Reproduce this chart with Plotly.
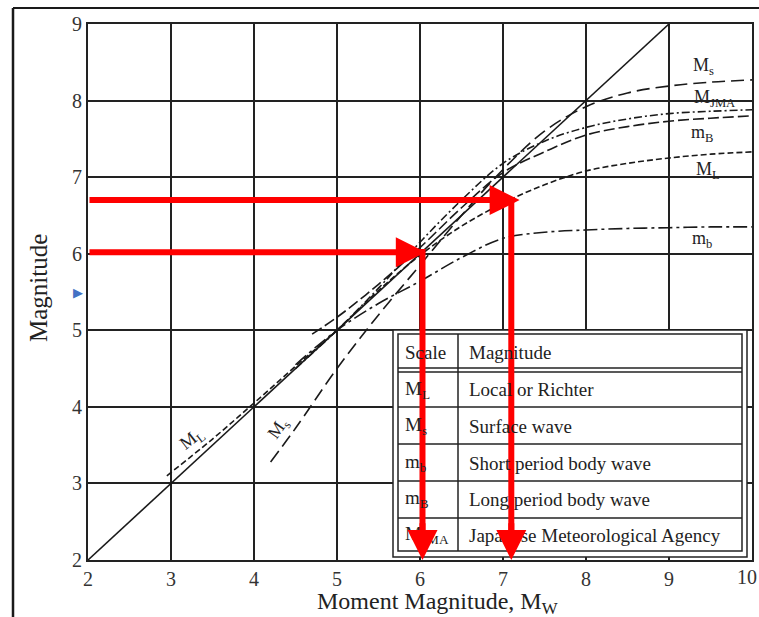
import plotly.graph_objects as go

# ---------------- data ----------------
mw_x = [2, 9]
mw_y = [2, 9]

ms_x = [4.2, 4.5, 5.0, 5.5, 6.0, 6.5, 7.0, 7.5, 8.0, 8.5, 9.0, 9.5, 10.0]
ms_y = [3.28, 3.72, 4.5, 5.2, 5.85, 6.5, 7.1, 7.6, 7.92, 8.1, 8.19, 8.24, 8.27]

ml_x = [2.95, 3.5, 4.0, 4.5, 5.0, 5.5, 6.0, 6.5, 7.0, 7.5, 8.0, 8.5, 9.0, 9.5, 10.0]
ml_y = [3.1, 3.58, 4.05, 4.53, 5.0, 5.52, 5.98, 6.36, 6.66, 6.9, 7.08, 7.18, 7.25, 7.3, 7.33]

mjma_x = [4.5, 5.0, 5.5, 6.0, 6.5, 7.0, 7.5, 8.0, 8.5, 9.0, 9.5, 10.0]
mjma_y = [4.5, 5.0, 5.55, 6.15, 6.7, 7.18, 7.47, 7.65, 7.76, 7.83, 7.86, 7.88]

mB_x = [4.7, 5.0, 5.5, 6.0, 6.5, 7.0, 7.5, 8.0, 8.5, 9.0, 9.5, 10.0]
mB_y = [4.95, 5.17, 5.6, 6.08, 6.6, 7.06, 7.33, 7.55, 7.66, 7.73, 7.77, 7.8]

mb_x = [4.5, 5.0, 5.5, 6.0, 6.5, 7.0, 7.5, 8.0, 8.5, 9.0, 9.5, 10.0]
mb_y = [4.55, 5.0, 5.35, 5.64, 5.95, 6.2, 6.28, 6.31, 6.33, 6.34, 6.35, 6.35]

# reading arrows (Mw -> magnitude)
arrow_mw = [6.03, 7.1]
arrow_mag = [6.02, 6.7]
arrow_tip_x = [6.07, 7.2]

x_ticks = [2, 3, 4, 5, 6, 7, 8, 9]
x_tick_last = "10"
y_ticks = [2, 3, 4, 5, 6, 7, 8, 9]

table_scale = ["Scale", "M<sub>L</sub>", "M<sub>s</sub>", "m<sub>b</sub>", "m<sub>B</sub>", "M<sub>JMA</sub>"]
table_desc = ["Magnitude", "Local or Richter", "Surface wave", "Short period body wave",
              "Long period body wave", "Japanese Meteorological Agency"]

# ---------------- figure ----------------
W, H = 759, 617
L, R, T, B = 88, 7, 24, 57
PW, PH = W - L - R, H - T - B


def px(x):
    return (x - L) / PW


def py(y):
    return (H - B - y) / PH


SERIF = "Liberation Serif"
INK = "#1a1a1a"
fig = go.Figure()

fig.add_trace(go.Scatter(x=mw_x, y=mw_y, mode="lines", line=dict(color=INK, width=1.6)))
fig.add_trace(go.Scatter(x=ms_x, y=ms_y, mode="lines", line_shape="spline",
                         line=dict(color=INK, width=1.6, dash="13px,6px")))
fig.add_trace(go.Scatter(x=ml_x, y=ml_y, mode="lines", line_shape="spline",
                         line=dict(color=INK, width=1.6, dash="6px,3px")))
fig.add_trace(go.Scatter(x=mjma_x, y=mjma_y, mode="lines", line_shape="spline",
                         line=dict(color=INK, width=1.6, dash="8px,3px,2px,3px")))
fig.add_trace(go.Scatter(x=mB_x, y=mB_y, mode="lines", line_shape="spline",
                         line=dict(color=INK, width=1.6, dash="11px,4px")))
fig.add_trace(go.Scatter(x=mb_x, y=mb_y, mode="lines", line_shape="spline",
                         line=dict(color=INK, width=1.6, dash="14px,4px,3px,4px")))

shapes = []
# outer image frame (left and top)
shapes.append(dict(type="line", xref="paper", yref="paper", x0=px(13), x1=px(13), y0=py(617), y1=py(8),
                   line=dict(color=INK, width=2.5)))
shapes.append(dict(type="line", xref="paper", yref="paper", x0=px(13), x1=px(759), y0=py(8), y1=py(8),
                   line=dict(color=INK, width=2)))

# table
shapes.append(dict(type="rect", xref="paper", yref="paper", x0=px(393), x1=px(747), y0=py(557), y1=py(330),
                   fillcolor="white", line=dict(color="#222", width=1.5), layer="above"))
shapes.append(dict(type="rect", xref="paper", yref="paper", x0=px(398), x1=px(742), y0=py(551), y1=py(334),
                   line=dict(color="#222", width=1.5), layer="above"))
for yy in [368, 372, 407, 444, 481, 518]:
    shapes.append(dict(type="line", xref="paper", yref="paper", x0=px(398), x1=px(742), y0=py(yy), y1=py(yy),
                       line=dict(color="#222", width=1.5), layer="above"))
shapes.append(dict(type="line", xref="paper", yref="paper", x0=px(458), x1=px(458), y0=py(551), y1=py(334),
                   line=dict(color="#222", width=1.5), layer="above"))

# red vertical arrow shafts
for xm, ym in zip(arrow_mw, arrow_mag):
    shapes.append(dict(type="line", xref="x", yref="y", x0=xm, x1=xm, y0=ym + 0.04, y1=2.35,
                       line=dict(color="#ff0000", width=6), layer="above"))

annotations = []
row_y = [352, 390, 426, 463, 499, 535]
for i, (s, d) in enumerate(zip(table_scale, table_desc)):
    annotations.append(dict(xref="paper", yref="paper", x=px(403), y=py(row_y[i]), text=s, showarrow=False,
                            xanchor="left", yanchor="middle", font=dict(family=SERIF, size=19, color="#222")))
    annotations.append(dict(xref="paper", yref="paper", x=px(467), y=py(row_y[i]), text=d, showarrow=False,
                            xanchor="left", yanchor="middle", font=dict(family=SERIF, size=19, color="#222")))

# curve labels
lab_font = dict(family=SERIF, size=18, color="#222")
for txt, x, y in [("M<sub>s</sub>", 9.42, 8.45), ("M<sub>JMA</sub>", 9.55, 8.03), ("m<sub>B</sub>", 9.4, 7.57),
                  ("M<sub>L</sub>", 9.47, 7.09), ("m<sub>b</sub>", 9.4, 6.18)]:
    annotations.append(dict(x=x, y=y, text=txt, showarrow=False, font=lab_font))
annotations.append(dict(x=3.25, y=3.58, text="M<sub>L</sub>", showarrow=False, textangle=-38, font=lab_font))
annotations.append(dict(x=4.3, y=3.72, text="M<sub>s</sub>", showarrow=False, textangle=-55, font=lab_font))

# red horizontal arrows and bottom arrowheads
for xm, ym, tip in zip(arrow_mw, arrow_mag, arrow_tip_x):
    annotations.append(dict(x=tip, y=ym, ax=2.0, ay=ym, xref="x", yref="y", axref="x", ayref="y", text="",
                            showarrow=True, arrowhead=2, arrowsize=1, arrowwidth=6, arrowcolor="#ff0000",
                            standoff=0))
    annotations.append(dict(x=xm, y=2.0, ax=xm, ay=2.5, xref="x", yref="y", axref="x", ayref="y", text="",
                            showarrow=True, arrowhead=2, arrowsize=1, arrowwidth=6, arrowcolor="#ff0000",
                            standoff=0))

# last x tick label (at the right edge)
annotations.append(dict(xref="paper", yref="paper", x=px(759), y=py(577), text=x_tick_last, showarrow=False,
                        xanchor="right", yanchor="middle", font=dict(family=SERIF, size=20, color="#333")))

# axis titles
annotations.append(dict(xref="paper", yref="paper", x=px(437), y=py(603), text="Moment Magnitude, M<sub>W</sub>",
                        showarrow=False, xanchor="center", yanchor="middle",
                        font=dict(family=SERIF, size=24, color="#222")))
annotations.append(dict(xref="paper", yref="paper", x=px(38), y=py(288), text="Magnitude", textangle=-90,
                        showarrow=False, xanchor="center", yanchor="middle",
                        font=dict(family=SERIF, size=25, color="#222")))

# small blue marker on the left
annotations.append(dict(xref="paper", yref="paper", x=px(71), y=py(292), text="▶", showarrow=False,
                        font=dict(size=13, color="#4472c4")))

fig.update_layout(
    width=W, height=H,
    margin=dict(l=L, r=R, t=T, b=B, autoexpand=False),
    paper_bgcolor="white", plot_bgcolor="white",
    showlegend=False,
    shapes=shapes, annotations=annotations,
    font=dict(family=SERIF, color="#222"),
)
fig.update_xaxes(range=[2, 10], tickvals=x_ticks + [10], ticktext=[str(v) for v in x_ticks] + [""],
                 showgrid=True, gridcolor="#222", gridwidth=2,
                 showline=True, linecolor="#222", linewidth=2, mirror=True, zeroline=False, automargin=False,
                 ticks="", ticklabelstandoff=0, tickfont=dict(family=SERIF, size=20, color="#333"))
fig.update_yaxes(range=[2, 9], tickvals=y_ticks, showgrid=True, gridcolor="#222", gridwidth=2,
                 showline=True, linecolor="#222", linewidth=2, mirror=True, zeroline=False, automargin=False,
                 ticks="", tickfont=dict(family=SERIF, size=20, color="#333"))

fig.write_html("out.html", config={"displayModeBar": False},
               post_script="document.body.style.margin='0';document.body.style.overflow='hidden';")
